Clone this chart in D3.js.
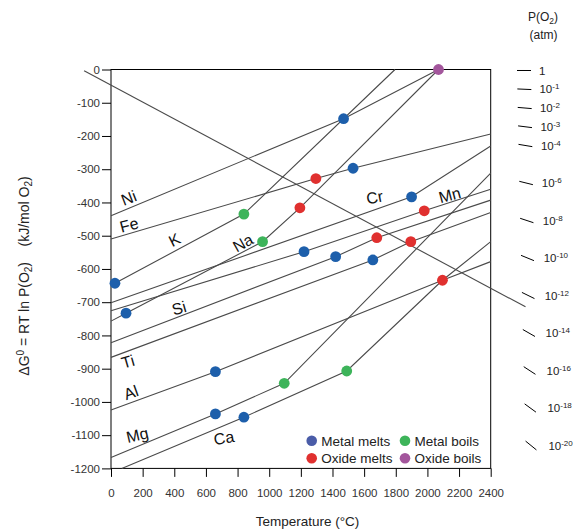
<!DOCTYPE html>
<html>
<head>
<meta charset="utf-8">
<script src="https://cdn.jsdelivr.net/npm/d3@7"></script>
<style>
  body { margin: 0; background: #fff; }
  text { font-family: "Liberation Sans", Arial, sans-serif; }
</style>
</head>
<body>
<div id="chart"></div>
<script>
// DATA (temperature in °C, ΔG in kJ/mol O2)

// oxidation lines, vertices
const lineNi = [[0, -440], [1470, -148], [2070, 0]];
const lineFe = [[0, -510], [1295, -328], [1530, -297], [2400, -194]];
const lineK  = [[25, -643], [840, -435], [1795, 0]];
const lineNa = [[0, -757], [95, -733], [958, -518], [1194, -416], [2070, 0]];
const lineCr = [[0, -702], [1900, -383], [2400, -230]];
const lineMn = [[0, -726], [1220, -548], [1980, -425], [2400, -360]];
const lineSi = [[0, -822], [1420, -563], [1680, -506], [2400, -393]];
const lineTi = [[0, -866], [1655, -573], [1895, -518], [2400, -430]];
const lineAl = [[0, -1024], [660, -909], [2095, -634], [2400, -578]];
const lineMg = [[0, -1167], [660, -1036], [1095, -944], [2400, -312]];
const lineCa = [[68, -1200], [840, -1046], [1490, -907], [2095, -634], [2400, -518]];
const lineGuide = [[-170, -4], [2620, -714]]; // P(O2) guide line

// phase change points
const metalMelts = [[25, -643], [95, -733], [660, -909], [660, -1036], [840, -1046],
                    [1220, -548], [1420, -563], [1655, -573], [1470, -148], [1530, -297], [1900, -383]];
const metalBoils = [[840, -435], [958, -518], [1095, -944], [1490, -907]];
const oxideMelts = [[1295, -328], [1194, -416], [1980, -425], [1680, -506], [1895, -518], [2095, -634]];
const oxideBoils = [[2070, 0]];

// element labels
const labelNames = ['Ni', 'Fe', 'K', 'Na', 'Cr', 'Mn', 'Si', 'Ti', 'Al', 'Mg', 'Ca'];
const labelAt = [[112, -387], [114, -468], [402, -513], [834, -522], [1667, -385], [2141, -378],
                 [430, -718], [107, -879], [126, -972], [167, -1100], [714, -1109]];
const labelTilt = [-21, -15, -27, -29, -11, -15, -16, -16, -20, -13, -10];

// axis ticks
const xTicks = d3.range(0, 2401, 200);
const yTicks = d3.range(-1200, 1, 100);
const pO2Exps = [0, 1, 2, 3, 4, 6, 8, 10, 12, 14, 16, 18, 20];

const legendNames = ['Metal melts', 'Metal boils', 'Oxide melts', 'Oxide boils'];

// SETUP

var width = 575;
var height = 531;
var lineColor = '#4a4a4a';
var textColor = '#222';
var dotR = 5.4;
var dotColors = ['#1d5fab', '#3db45a', '#e0302f', '#a3569c'];
var legendColors = ['#4a5ca8', '#3db45a', '#e0302f', '#a3569c'];

var svg = d3.select('#chart')
  .append('svg')
    .attr('width', width)
    .attr('height', height);

var x = d3.scaleLinear().domain([0, 2400]).range([111, 490.7]);
var y = d3.scaleLinear().domain([-1200, 0]).range([468.4, 69.5]);
var pY = d3.scaleLinear().domain([0, 20]).range([70, 445]); // P(O2) exponent -> px

// plain labels: hyphen minus, no thousands comma
var plain = function(d) { return String(d); };

// AXES

var yAxis = d3.axisLeft(y)
    .tickValues(yTicks)
    .tickFormat(plain)
    .tickSize(9)
    .tickSizeOuter(0)
    .tickPadding(2);
var xAxis = d3.axisBottom(x)
    .tickValues(xTicks)
    .tickFormat(plain)
    .tickSize(8.5)
    .tickSizeOuter(0)
    .tickPadding(12);

var gy = svg.append('g')
    .attr('transform', 'translate(' + x(0) + ',0)')
    .call(yAxis);
var gx = svg.append('g')
    .attr('transform', 'translate(0,' + y(-1200) + ')')
    .call(xAxis);

[gx, gy].forEach(function(g) {
  g.select('.domain').remove();
  g.selectAll('.tick line').attr('stroke', '#000');
  g.selectAll('.tick text')
      .attr('fill', '#333')
      .style('font-size', '11.5px')
      .style('font-family', '"Liberation Sans", Arial, sans-serif');
});

// frame
svg.append('rect')
    .attr('x', x(0))
    .attr('y', y(0))
    .attr('width', x(2400) - x(0))
    .attr('height', y(-1200) - y(0))
    .style('fill', 'none')
    .style('stroke', '#000')
    .style('stroke-width', 1);

// LINES

var path = d3.line()
    .x(function(d) { return x(d[0]); })
    .y(function(d) { return y(d[1]); });

var allLines = [lineNi, lineFe, lineK, lineNa, lineCr, lineMn, lineSi, lineTi, lineAl, lineMg, lineCa, lineGuide];

svg.selectAll('path.el')
  .data(allLines)
  .enter()
  .append('path')
    .attr('class', 'el')
    .attr('d', path)
    .style('fill', 'none')
    .style('stroke', lineColor)
    .style('stroke-width', 1.1);

// POINTS

var pointSets = [metalMelts, metalBoils, oxideMelts, oxideBoils];
pointSets.forEach(function(set, i) {
  svg.selectAll('circle.p' + i)
    .data(set)
    .enter()
    .append('circle')
      .attr('class', 'p' + i)
      .attr('cx', function(d) { return x(d[0]); })
      .attr('cy', function(d) { return y(d[1]); })
      .attr('r', dotR)
      .style('fill', dotColors[i]);
});

// ELEMENT LABELS

svg.selectAll('text.el')
  .data(labelNames)
  .enter()
  .append('text')
    .attr('class', 'el')
    .attr('transform', function(d, i) {
      return 'translate(' + x(labelAt[i][0]) + ',' + y(labelAt[i][1]) + ') rotate(' + labelTilt[i] + ')';
    })
    .attr('text-anchor', 'middle')
    .attr('dominant-baseline', 'central')
    .style('font-size', '16px')
    .style('fill', '#111')
    .text(function(d) { return d; });

// LEGEND

var legendX = [311.7, 405];
var legendY = [440.7, 458.3];
legendNames.forEach(function(name, i) {
  var lx = legendX[i % 2];
  var ly = legendY[Math.floor(i / 2)];
  svg.append('circle')
      .attr('cx', lx)
      .attr('cy', ly)
      .attr('r', 5.3)
      .style('fill', legendColors[i]);
  svg.append('text')
      .attr('x', lx + 9.5)
      .attr('y', ly + 4.8)
      .style('font-size', '13.5px')
      .style('fill', textColor)
      .text(name);
});

// P(O2) SCALE ON THE RIGHT

var pivot = [x(-273), y(0)];
var markLen = 14;
pO2Exps.forEach(function(k) {
  var cx = 524 + 0.35 * k;
  var cy = pY(k) + 0.5;
  var ang = Math.atan2(cy - pivot[1], cx - pivot[0]);
  var dx = Math.cos(ang) * markLen / 2;
  var dy = Math.sin(ang) * markLen / 2;
  svg.append('line')
      .attr('x1', cx - dx).attr('y1', cy - dy)
      .attr('x2', cx + dx).attr('y2', cy + dy)
      .style('stroke', '#000')
      .style('stroke-width', 1);
  var t = svg.append('text')
      .attr('x', 539 + 0.47 * k)
      .attr('y', pY(k) + 4.5)
      .style('font-size', '11.5px')
      .style('fill', textColor);
  if (k === 0) {
    t.text('1');
  } else {
    t.append('tspan').text('10');
    t.append('tspan')
        .attr('dy', -4)
        .style('font-size', '8px')
        .text('-' + k);
  }
});

svg.append('text')
    .attr('x', 543)
    .attr('y', 20.5)
    .attr('text-anchor', 'middle')
    .style('font-size', '12px')
    .style('fill', textColor)
    .call(function(t) {
      t.append('tspan').text('P(O');
      t.append('tspan').attr('dy', 3).style('font-size', '8.5px').text('2');
      t.append('tspan').attr('dy', -3).text(')');
    });
svg.append('text')
    .attr('x', 543.5)
    .attr('y', 38.5)
    .attr('text-anchor', 'middle')
    .style('font-size', '12px')
    .style('fill', textColor)
    .text('(atm)');

// AXIS TITLES

svg.append('text')
    .attr('x', 307.5)
    .attr('y', 526)
    .attr('text-anchor', 'middle')
    .style('font-size', '13.5px')
    .style('fill', textColor)
    .text('Temperature (°C)');

var yTitle = svg.append('text')
    .attr('transform', 'translate(29,276) rotate(-90)')
    .attr('text-anchor', 'middle')
    .style('font-size', '14px')
    .style('fill', textColor)
    .attr('xml:space', 'preserve');
yTitle.append('tspan').text('ΔG');
yTitle.append('tspan').attr('dy', -5).style('font-size', '10px').text('0');
yTitle.append('tspan').attr('dy', 5).text(' = RT ln P(O');
yTitle.append('tspan').attr('dy', 3).style('font-size', '10px').text('2');
yTitle.append('tspan').attr('dy', -3).text(')    (kJ/mol O');
yTitle.append('tspan').attr('dy', 3).style('font-size', '10px').text('2');
yTitle.append('tspan').attr('dy', -3).text(')');
</script>
</body>
</html>
